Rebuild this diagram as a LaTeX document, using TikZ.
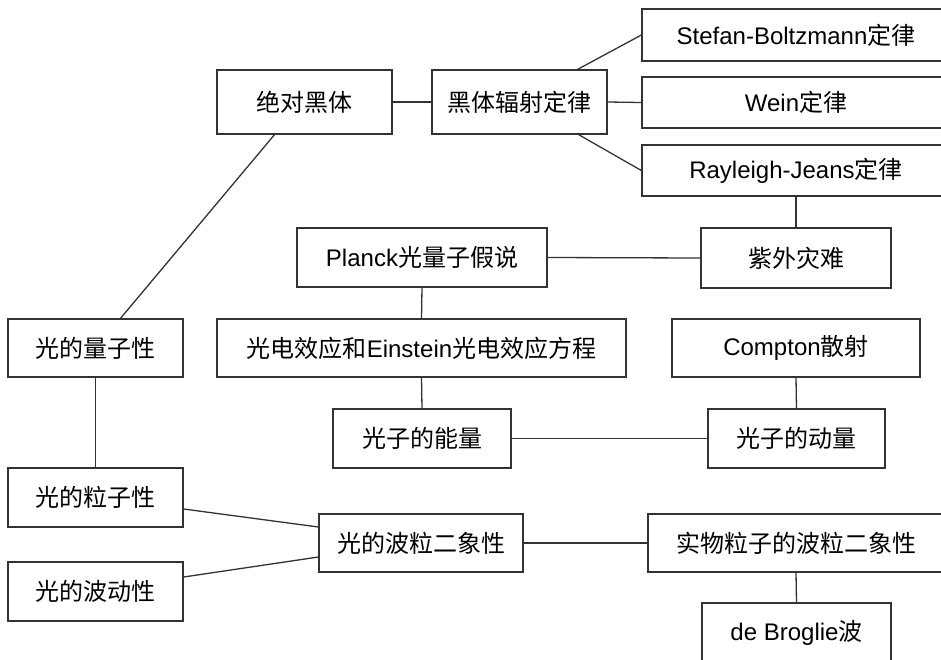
\documentclass[tikz,border=0pt]{standalone}
\usepackage{fontspec}
\setmainfont{Liberation Sans}
\newfontfamily\cjk{Noto Sans CJK SC}
\usepackage{tikz}
\usetikzlibrary{positioning}
\tikzset{
    kbox/.style={draw=black!80, line width=1.3pt, fill=white, inner sep=0pt,
        font=\fontsize{24}{28}\selectfont},
    link/.style={draw=black!80, line width=1.3pt}
}

\begin{document}
\begin{tikzpicture}[x=1pt,y=-1pt]
	\useasboundingbox (0,0) rectangle (941,659);
	\node[kbox,minimum width=175pt,minimum height=64pt] (jdht) at (304.5,102) {\cjk 绝对黑体};
	\node[kbox,minimum width=175pt,minimum height=64pt] (hfls) at (519.5,102) {\cjk 黑体辐射定律};
	\node[kbox,minimum width=308pt,minimum height=52pt] (sb) at (796,35) {Stefan-Boltzmann{\cjk 定律}};
	\node[kbox,minimum width=308pt,minimum height=51pt] (wein) at (796,102.5) {Wein{\cjk 定律}};
	\node[kbox,minimum width=308pt,minimum height=51pt] (rj) at (796,170.5) {Rayleigh-Jeans{\cjk 定律}};
	\node[kbox,minimum width=250pt,minimum height=59pt] (planck) at (422,257.5) {Planck{\cjk 光量子假说}};
	\node[kbox,minimum width=190pt,minimum height=60pt] (zwzn) at (796,258) {\cjk 紫外灾难};
	\node[kbox,minimum width=175pt,minimum height=58pt] (lzx) at (95.5,348) {\cjk 光的量子性};
	\node[kbox,minimum width=409pt,minimum height=58pt] (gdxy) at (421.5,348) {{\cjk 光电效应和}Einstein{\cjk 光电效应方程}};
	\node[kbox,minimum width=248pt,minimum height=58pt] (compton) at (796,348) {Compton{\cjk 散射}};
	\node[kbox,minimum width=178pt,minimum height=59pt] (nl) at (422,438.5) {\cjk 光子的能量};
	\node[kbox,minimum width=177pt,minimum height=59pt] (dl) at (796.5,438.5) {\cjk 光子的动量};
	\node[kbox,minimum width=175pt,minimum height=59pt] (lizi) at (95.5,497.5) {\cjk 光的粒子性};
	\node[kbox,minimum width=204pt,minimum height=58pt] (bl) at (421,543) {\cjk 光的波粒二象性};
	\node[kbox,minimum width=296pt,minimum height=58pt] (sw) at (796,543) {\cjk 实物粒子的波粒二象性};
	\node[kbox,minimum width=175pt,minimum height=59pt] (bd) at (95.5,591.5) {\cjk 光的波动性};
	\node[kbox,minimum width=189pt,minimum height=60pt] (db) at (796.5,633) {de Broglie{\cjk 波}};

	\draw[link] (jdht.east) -- (hfls.west);
	\draw[link] ([xshift=-30pt]hfls.north east) -- (sb.west);
	\draw[link] (hfls.east) -- (wein.west);
	\draw[link] ([xshift=-29pt]hfls.south east) -- (rj.west);
	\draw[link] (rj.south) -- (zwzn.north);
	\draw[link] (planck.east) -- (zwzn.west);
	\draw[link] (planck.south) -- (gdxy.north);
	\draw[link] (gdxy.south) -- (nl.north);
	\draw[link] (nl.east) -- (dl.west);
	\draw[link] (compton.south) -- (dl.north);
	\draw[link] ([xshift=-30pt]jdht.south) -- ([xshift=25pt]lzx.north);
	\draw[link] (lzx.south) -- (lizi.north);
	\draw[link] ([yshift=-11.5pt]lizi.east) -- ([yshift=16pt]bl.west);
	\draw[link] ([yshift=14.5pt]bd.east) -- ([yshift=-14pt]bl.west);
	\draw[link] (bl.east) -- (sw.west);
	\draw[link] (sw.south) -- (db.north);
\end{tikzpicture}
\end{document}
